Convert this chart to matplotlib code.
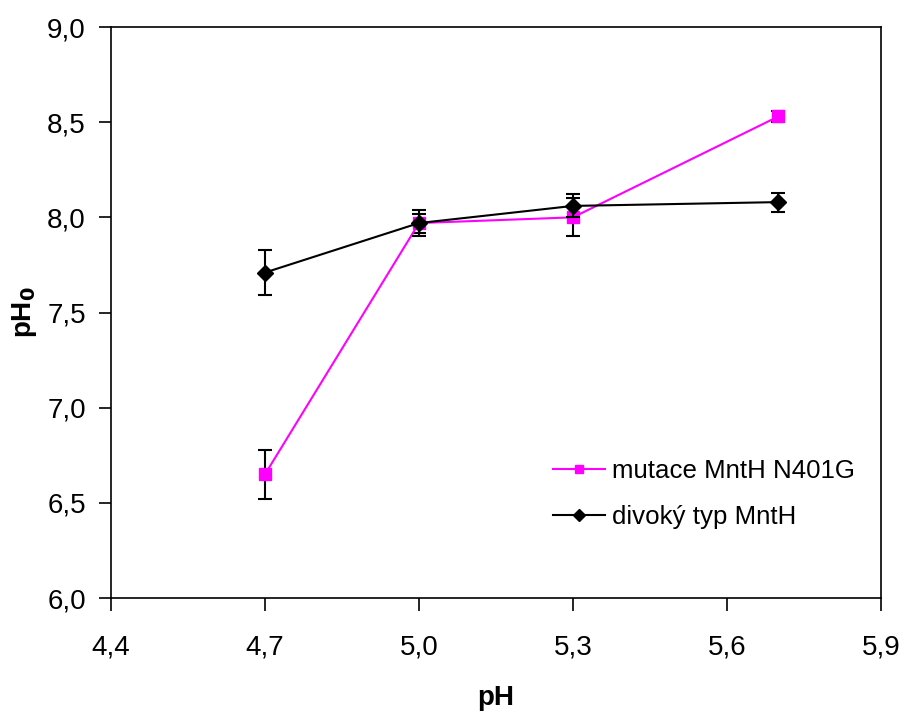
import matplotlib
matplotlib.use("Agg")
import matplotlib.pyplot as plt

plt.rcParams['font.family'] = ['Liberation Sans', 'DejaVu Sans']

# data
ph = [4.7, 5.0, 5.3, 5.7]
mutant = [6.65, 7.97, 8.00, 8.53]
mutant_err = [0.13, 0.05, 0.10, 0.03]
wild = [7.71, 7.97, 8.06, 8.08]
wild_err = [0.12, 0.07, 0.06, 0.05]

xticks = [4.4, 4.7, 5.0, 5.3, 5.6, 5.9]
yticks = [6.0, 6.5, 7.0, 7.5, 8.0, 8.5, 9.0]

fig = plt.figure(figsize=(9.03, 7.11), dpi=100)
ax = fig.add_axes([111 / 903, 1 - 598 / 711, 770 / 903, 571 / 711])

ax.errorbar(ph, mutant, yerr=mutant_err, color='#ff00ff', marker='s', markersize=8,
            linewidth=1.5, ecolor='black', elinewidth=1.5, capsize=5, capthick=1.5,
            label='mutace MntH N401G', zorder=3)
ax.errorbar(ph, wild, yerr=wild_err, color='black', marker='D', markersize=8,
            linewidth=1.5, ecolor='black', elinewidth=1.5, capsize=5, capthick=1.5,
            label='divoký typ MntH', zorder=4)

ax.set_xlim(4.4, 5.9)
ax.set_ylim(6.0, 9.0)
ax.set_xticks(xticks)
ax.set_yticks(yticks)
ax.set_xticklabels([f"{t:.1f}".replace('.', ',') for t in xticks])
ax.set_yticklabels([f"{t:.1f}".replace('.', ',') for t in yticks])
ax.tick_params(direction='out', length=9, width=1.2, labelsize=20)
ax.tick_params(axis='y', pad=9)
ax.tick_params(axis='x', pad=17)
for s in ax.spines.values():
    s.set_linewidth(1.2)

ax.set_xlabel('pH', fontsize=20, fontweight='bold', labelpad=18)
ax.set_ylabel('pH$_\\mathbf{0}$', fontsize=20, fontweight='bold', labelpad=6)

handles, labels = ax.get_legend_handles_labels()
handles = [h[0] for h in handles]
ax.legend(handles, labels, loc='upper left', bbox_to_anchor=(553 / 903, 1 - 459 / 711),
          bbox_transform=fig.transFigure, frameon=False, fontsize=18.6, borderpad=0,
          borderaxespad=0, markerscale=0.75, handlelength=2.0, handletextpad=0.3,
          labelspacing=0.85)

fig.savefig('out.png', dpi=100)
